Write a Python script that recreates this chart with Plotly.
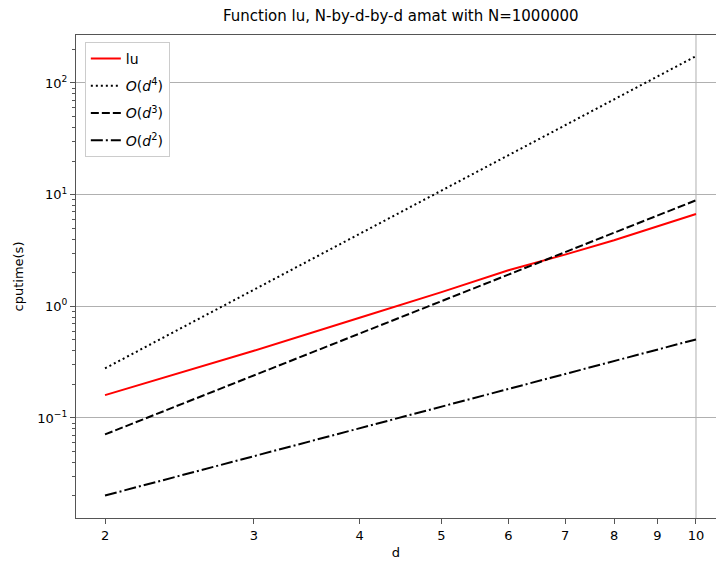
import plotly.graph_objects as go
import numpy as np

d_vals = [2, 3, 4, 5, 6, 7, 8, 9, 10]
lu_time = [0.16, 0.40, 0.79, 1.34, 2.10, 2.90, 3.90, 5.20, 6.70]
o_d4 = [0.278, 1.41, 4.44, 10.8, 22.5, 41.7, 71.1, 114.0, 174.0]
o_d3 = [0.0712, 0.240, 0.570, 1.11, 1.92, 3.05, 4.56, 6.49, 8.9]
o_d2 = [0.0202, 0.0455, 0.0808, 0.126, 0.182, 0.247, 0.323, 0.409, 0.505]

x_ticks = [2, 3, 4, 5, 6, 7, 8, 9, 10]
x_ticktext = ["2", "3", "4", "5", "6", "7", "8", "9", "10"]
y_major = [0.1, 1, 10, 100]
y_ticktext = ["10<sup>−1</sup>", "10<sup>0</sup>", "10<sup>1</sup>", "10<sup>2</sup>"]
y_minor = [m * 10.0 ** e for e in range(-2, 3) for m in range(2, 10)]

FONT = "DejaVu Sans"
W, H = 716, 561
L, T, B = 76, 35, 43

fig = go.Figure()
fig.add_trace(go.Scatter(x=d_vals, y=lu_time, mode="lines", name="lu", legendgroup="a",
                         line=dict(color="#ff0000", width=2)))
fig.add_trace(go.Scatter(x=d_vals, y=o_d4, mode="lines", name="<i>O</i>(<i>d</i><sup>4</sup>)",
                         legendgroup="b",
                         line=dict(color="black", width=2, dash="2px,3px")))
fig.add_trace(go.Scatter(x=d_vals, y=o_d3, mode="lines", name="<i>O</i>(<i>d</i><sup>3</sup>)",
                         legendgroup="c",
                         line=dict(color="black", width=2, dash="8px,3px")))
fig.add_trace(go.Scatter(x=d_vals, y=o_d2, mode="lines", name="<i>O</i>(<i>d</i><sup>2</sup>)",
                         legendgroup="d",
                         line=dict(color="black", width=2, dash="12px,3px,2px,3px")))

spine = "#555555"
fig.update_layout(
    width=W, height=H,
    margin=dict(l=L, r=0, t=T, b=B, autoexpand=False),
    paper_bgcolor="white", plot_bgcolor="white",
    font=dict(family=FONT, size=13, color="black"),
    showlegend=True,
    legend=dict(x=0.0138, y=0.9855, xanchor="left", yanchor="top",
                bgcolor="white", bordercolor="#cccccc", borderwidth=1,
                tracegroupgap=6, traceorder="grouped",
                font=dict(family=FONT, size=14)),
    xaxis=dict(type="log", range=[np.log10(1.848), np.log10(10.56)],
               tickmode="array", tickvals=x_ticks, ticktext=x_ticktext,
               ticks="outside", ticklen=5, tickcolor=spine,
               showgrid=False, zeroline=False, automargin=False,
               showline=True, linecolor=spine, linewidth=1.3, mirror=True,
               title=dict(text="d", font=dict(size=13), standoff=6)),
    yaxis=dict(type="log", range=[np.log10(0.0127), np.log10(269)],
               tickmode="array", tickvals=y_major, ticktext=y_ticktext,
               ticks="outside", ticklen=5, tickcolor=spine,
               showgrid=True, gridcolor="#b0b0b0", gridwidth=1,
               zeroline=False, automargin=False,
               showline=True, linecolor=spine, linewidth=1.3, mirror=False,
               minor=dict(tickmode="array", tickvals=y_minor, ticks="outside",
                          ticklen=3, tickcolor=spine, showgrid=False),
               title=dict(text="cputime(s)", font=dict(size=13), standoff=10)),
    shapes=[dict(type="line", xref="x", yref="paper", x0=10, x1=10, y0=0, y1=1,
                 line=dict(color="#b0b0b0", width=1), layer="below")],
    annotations=[dict(text="Function lu, N-by-d-by-d amat with N=1000000",
                      xref="x domain", yref="paper", x=(401 - L) / (W - L), y=1,
                      yshift=8, xanchor="center", yanchor="bottom", showarrow=False,
                      font=dict(family=FONT, size=15, color="black"))],
)

fig.write_html("out.html",
               config={"displayModeBar": False},
               post_script="document.body.style.margin='0';document.body.style.overflow='hidden';")
